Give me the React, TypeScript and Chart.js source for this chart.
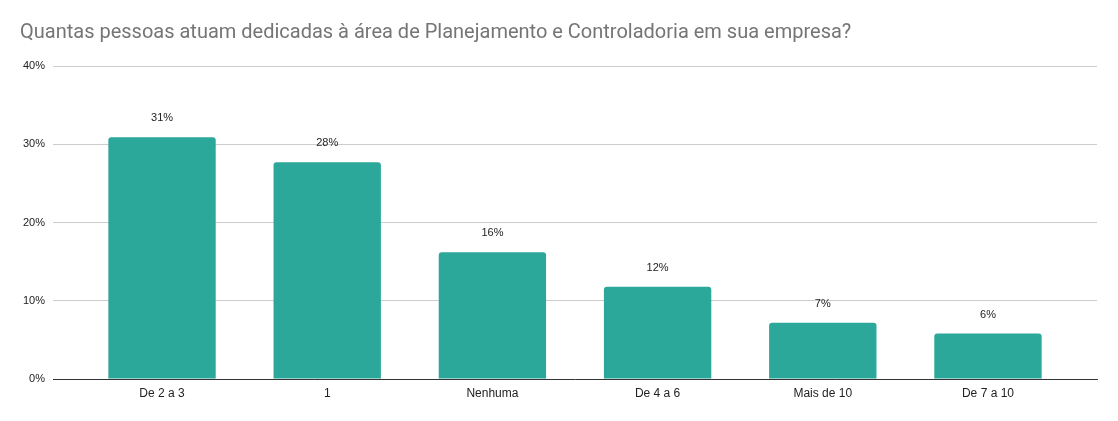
import { useEffect, useRef } from "react";
import { Chart, registerables } from "chart.js";

Chart.register(...registerables);

const categories = ["De 2 a 3", "1", "Nenhuma", "De 4 a 6", "Mais de 10", "De 7 a 10"];
const percentValues = [30.9, 27.7, 16.2, 11.8, 7.2, 5.8];
const yTicks = [0, 10, 20, 30, 40];

const TITLE = "Quantas pessoas atuam dedicadas à área de Planejamento e Controladoria em sua empresa?";
const BAR_COLOR = "#2ca89b";
const FONT = "Arial, 'Liberation Sans', sans-serif";
const TITLE_FONT = "Roboto, Arial, sans-serif";

// draws the "31%" labels above each bar
const barLabels = {
  id: "barLabels",
  afterDatasetsDraw(chart: Chart) {
    const { ctx } = chart;
    const meta = chart.getDatasetMeta(0);
    ctx.save();
    ctx.font = `11px ${FONT}`;
    ctx.fillStyle = "#222";
    ctx.textAlign = "center";
    ctx.textBaseline = "middle";
    meta.data.forEach((bar: any, i: number) => {
      ctx.fillText(Math.round(percentValues[i]) + "%", bar.x, bar.y - 19);
    });
    ctx.restore();
  },
};

export default function App() {
  const canvasRef = useRef<HTMLCanvasElement>(null);

  useEffect(() => {
    if (!canvasRef.current) return;
    const chart = new Chart(canvasRef.current, {
      type: "bar",
      data: {
        datasets: [
          {
            data: percentValues.map((v, i) => ({ x: i, y: v })),
            backgroundColor: BAR_COLOR,
            borderRadius: { topLeft: 3, topRight: 3 },
            borderSkipped: "bottom",
            barPercentage: 0.65,
            categoryPercentage: 1,
          },
        ],
      },
      options: {
        animation: false,
        responsive: true,
        maintainAspectRatio: false,
        layout: { padding: { left: 20, right: 21, top: 0, bottom: 0 } },
        plugins: {
          legend: { display: false },
          tooltip: { enabled: false },
          title: {
            display: true,
            text: TITLE,
            align: "start",
            color: "#757575",
            font: { family: TITLE_FONT, size: 20, weight: "normal" },
            padding: { top: 21, bottom: 21 },
          },
        },
        scales: {
          x: {
            type: "linear",
            offset: false,
            min: -0.66,
            max: categories.length - 0.34,
            grid: { display: false, drawTicks: false },
            border: { display: true, color: "#333", width: 1 },
            ticks: {
              stepSize: 1,
              includeBounds: false,
              autoSkip: false,
              maxRotation: 0,
              padding: 7,
              color: "#222",
              font: { family: FONT, size: 12 },
              callback: (v: any) => (Number.isInteger(v) ? categories[v] : ""),
            },
            afterFit: (scale: any) => {
              scale.height = 42;
            },
          },
          y: {
            min: 0,
            max: 40,
            afterBuildTicks: (scale: any) => {
              scale.ticks = yTicks.map((value) => ({ value }));
            },
            grid: { color: "#cccccc", drawTicks: false },
            border: { display: false },
            ticks: {
              padding: 8,
              color: "#222",
              font: { family: FONT, size: 11 },
              callback: (v: any) => v + "%",
            },
            afterFit: (scale: any) => {
              scale.width = 33;
            },
          },
        },
      },
      plugins: [barLabels],
    });
    return () => chart.destroy();
  }, []);

  return (
    <div style={{ position: "fixed", left: 0, top: 0, width: 1118, height: 421, background: "#fff" }}>
      <canvas ref={canvasRef} />
    </div>
  );
}
